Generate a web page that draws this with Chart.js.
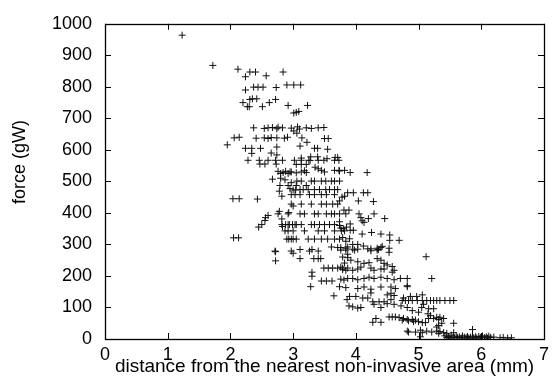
<!DOCTYPE html>
<html>
<head>
<meta charset="utf-8">
<script src="https://cdn.jsdelivr.net/npm/chart.js@4/dist/chart.umd.min.js"></script>
<style>
  html, body { margin: 0; padding: 0; background: #fff; }
  canvas { display: block; }
</style>
</head>
<body>
<canvas id="forceChart" width="554" height="390"></canvas>
<script>
// [distance (mm), force (gW)], grouped by force band
const upperPoints = [
    [1.23, 964], [1.72, 868], [2.12, 856], [2.31, 847], [2.40, 847], [2.24, 832], [2.57, 835], [2.84, 847],
    [2.24, 790], [2.37, 799], [2.44, 799], [2.52, 799], [2.73, 798], [2.90, 806], [3.01, 806], [3.12, 806],
    [2.20, 750], [2.31, 760], [2.35, 762], [2.42, 762], [2.27, 737], [2.30, 737], [2.51, 737], [2.62, 750],
    [2.72, 760], [2.92, 741], [3.23, 741], [3.01, 717], [3.05, 719], [3.09, 722],
    [2.37, 670], [2.54, 668], [2.60, 670], [2.67, 671], [2.74, 667], [2.76, 672], [2.83, 670], [2.97, 669],
    [3.07, 673], [3.10, 666], [3.21, 670], [3.29, 668], [3.40, 670], [3.49, 671], [3.01, 660], [3.06, 653],
    [2.06, 638], [2.14, 640], [2.41, 637], [2.54, 638], [2.60, 636], [2.65, 639], [2.74, 638], [2.86, 637],
    [2.91, 640], [3.14, 638], [3.50, 636], [3.56, 636],
    [1.95, 616], [3.22, 624], [3.11, 612], [2.24, 605], [2.34, 605], [2.34, 589], [2.48, 605], [2.74, 609],
    [2.65, 590], [2.74, 584], [3.34, 605], [3.39, 605], [3.55, 602]
];

const middlePoints = [
    [2.28, 567], [2.46, 567], [2.60, 567], [2.72, 567], [2.83, 567], [3.02, 567], [3.13, 567], [3.25, 567],
    [3.40, 567], [3.49, 567], [3.66, 567], [3.73, 567], [3.27, 566], [3.54, 572], [3.67, 576], [3.71, 576],
    [3.13, 574], [3.28, 578], [3.39, 578],
    [2.47, 555], [2.55, 555], [2.73, 555], [3.05, 554], [3.13, 554], [3.21, 554],
    [2.76, 532], [2.88, 532], [2.95, 530], [3.18, 534], [3.66, 535], [3.73, 535], [3.82, 535], [3.74, 533],
    [3.91, 528], [4.18, 528], [2.80, 525], [2.84, 528], [2.92, 525], [2.97, 530], [3.05, 527], [3.13, 530],
    [3.21, 528], [3.35, 545], [3.40, 540], [3.45, 535], [3.50, 530],
    [2.67, 507], [2.80, 510], [2.87, 505], [2.97, 496],
    [3.06, 501], [3.13, 501], [3.29, 501], [3.34, 501], [3.45, 501], [3.52, 501], [3.61, 501], [3.66, 501], [3.74, 501],
    [2.79, 487], [2.92, 487], [3.05, 487], [3.21, 487], [2.95, 477], [3.00, 473], [3.04, 473],
    [3.11, 474], [3.16, 474], [3.24, 474], [3.34, 474], [3.42, 474], [3.52, 474], [3.58, 474], [3.66, 474], [3.71, 474],
    [2.78, 469], [2.82, 453], [3.87, 464], [3.96, 464], [4.12, 464], [4.19, 464], [3.82, 453], [3.78, 450],
    [2.97, 458], [3.03, 458], [3.11, 458], [3.26, 458], [3.34, 458], [3.45, 458], [3.53, 458], [3.66, 458],
    [2.04, 445], [2.14, 445], [2.43, 444], [3.74, 438], [4.04, 438], [4.28, 436],
    [2.97, 428], [3.13, 428], [3.29, 428], [3.45, 428], [3.53, 428], [3.63, 428], [3.71, 428],
    [3.00, 422], [3.81, 409], [3.89, 409], [2.78, 405], [2.93, 401]
];

const lowerPoints = [
    [2.76, 397], [2.92, 397], [3.11, 397], [3.18, 397], [3.34, 397], [3.40, 397], [3.53, 397], [3.61, 397],
    [3.66, 397], [3.74, 397], [3.84, 397], [4.05, 397], [4.29, 397],
    [2.60, 392], [2.56, 385], [2.55, 376], [2.82, 381], [4.20, 382], [4.46, 382], [4.08, 385], [4.10, 375], [4.13, 370],
    [2.50, 363], [2.45, 355],
    [2.82, 363], [2.88, 363], [2.92, 363], [2.94, 363], [2.99, 363], [3.03, 363], [3.05, 363], [3.13, 363],
    [3.29, 363], [3.34, 363], [3.42, 363], [3.50, 363], [3.58, 363], [3.66, 363],
    [3.91, 365], [3.85, 355], [3.80, 350], [3.91, 345], [3.96, 345], [2.83, 357], [3.74, 372], [3.74, 360], [3.76, 352],
    [2.87, 343], [2.92, 343], [3.00, 343], [3.18, 343], [3.40, 343], [3.50, 343], [3.66, 343], [3.77, 343], [3.82, 343],
    [4.10, 333], [4.25, 338], [4.40, 333], [4.54, 330], [4.54, 313], [4.69, 313], [2.05, 321], [2.13, 321],
    [2.90, 317], [2.93, 317], [2.97, 317], [3.00, 317], [3.05, 317], [3.24, 317], [3.34, 317], [3.45, 317],
    [3.55, 317], [3.66, 317], [3.74, 317],
    [3.79, 322], [3.84, 310], [3.90, 318], [3.95, 300], [4.03, 300], [4.12, 295],
    [3.61, 292], [3.71, 290], [3.87, 292], [3.76, 290], [3.84, 288], [3.95, 285], [4.03, 285], [4.19, 286],
    [4.24, 286], [4.34, 288], [4.40, 290], [4.53, 288], [4.53, 275], [4.42, 294], [4.36, 284],
    [2.71, 279], [2.97, 279], [3.26, 279], [3.40, 279], [2.72, 277], [2.72, 248], [3.00, 272], [3.11, 284],
    [3.11, 255], [3.30, 284], [3.33, 255], [3.40, 255], [3.44, 255],
    [3.76, 282], [3.84, 282], [3.98, 282], [4.24, 280], [4.34, 282], [3.87, 269], [3.82, 241], [5.12, 261],
    [3.49, 225], [3.56, 225], [3.63, 225], [3.71, 225], [3.79, 225], [3.87, 225],
    [3.79, 260], [3.87, 258], [3.92, 250], [4.03, 245], [4.13, 240], [4.21, 242], [4.34, 255], [4.40, 250],
    [4.45, 240], [4.50, 235], [4.58, 230],
    [3.76, 228], [3.79, 220], [3.84, 218], [3.95, 218], [4.03, 222], [4.08, 228], [4.24, 225], [4.29, 218],
    [4.40, 222], [4.45, 222], [4.58, 212], [4.61, 218], [3.30, 212], [3.30, 199]
];

const tailPoints = [
    [3.76, 190], [3.81, 187], [3.87, 192], [3.95, 192], [4.03, 188], [4.13, 192], [4.21, 196], [4.29, 192],
    [4.40, 196], [4.50, 192], [4.61, 188], [4.71, 192], [4.82, 192], [4.82, 169], [5.21, 192],
    [3.45, 184], [3.53, 184], [3.62, 184], [3.28, 166], [3.74, 166],
    [3.84, 163], [4.03, 160], [4.13, 165], [4.24, 158], [4.40, 165], [4.56, 165], [4.63, 160], [4.82, 166],
    [3.65, 137], [3.86, 125], [3.90, 135], [4.00, 135], [4.11, 130], [4.24, 146], [4.56, 125], [4.76, 130],
    [5.06, 140], [4.87, 135], [4.97, 135],
    [4.74, 122], [4.79, 122], [4.84, 122], [4.90, 122], [4.98, 122], [5.06, 122], [5.13, 122], [5.19, 122],
    [5.24, 122], [5.29, 122], [5.34, 122], [5.42, 122], [5.50, 122], [5.56, 122],
    [4.37, 118], [4.45, 118], [4.50, 112], [4.61, 110],
    [3.89, 105], [3.95, 102], [4.03, 98], [4.08, 100], [4.19, 130], [4.27, 118], [4.29, 110], [4.40, 100],
    [4.50, 140], [4.56, 145], [4.61, 138], [5.16, 96], [5.24, 96],
    [4.72, 105], [4.82, 100], [4.90, 90], [5.00, 85], [5.05, 100], [5.08, 110], [5.15, 80], [5.19, 74],
    [4.53, 70], [4.58, 70], [4.63, 70], [4.69, 68], [4.76, 65], [4.82, 62], [4.90, 62], [4.95, 60],
    [5.00, 55], [5.06, 52], [5.11, 52], [5.16, 65], [5.24, 65], [5.32, 62], [5.40, 65],
    [4.74, 60], [4.84, 58], [4.92, 55], [4.32, 65], [4.27, 53], [4.40, 53],
    [5.29, 69], [5.34, 69], [5.37, 50], [5.56, 50], [5.29, 38], [5.32, 43], [5.86, 30],
    [4.82, 25], [4.84, 22], [4.95, 22], [5.03, 28], [5.06, 20], [5.13, 25], [5.21, 22], [5.29, 25],
    [5.32, 18], [5.34, 24], [5.40, 20], [5.45, 18], [5.56, 20], [5.03, 7]
];

const baselinePoints = [
    [5.42, 10], [5.45, 5], [5.48, 8], [5.50, 3], [5.52, 12], [5.55, 6], [5.57, 4], [5.60, 9],
    [5.62, 5], [5.65, 7], [5.68, 3], [5.70, 10], [5.73, 6], [5.76, 4], [5.78, 8], [5.80, 3],
    [5.83, 6], [5.86, 9], [5.88, 4], [5.91, 7], [5.93, 3], [5.96, 8], [5.99, 5], [6.02, 10],
    [6.05, 4], [6.08, 7], [6.10, 3], [6.12, 9], [6.15, 5], [6.20, 6], [6.30, 4], [6.35, 5],
    [6.42, 3], [6.48, 4]
];

const xTicks = [0, 1, 2, 3, 4, 5, 6, 7];
const yTicks = [0, 100, 200, 300, 400, 500, 600, 700, 800, 900, 1000];

const xTitle = 'distance from the nearest non-invasive area (mm)';
const yTitle = 'force (gW)';

var fontFamily = '"Liberation Sans", Arial, Helvetica, sans-serif';

// gnuplot style box: frame with inward ticks on all four sides, plus y label
const frameTicks = {
    id: 'frameTicks',
    afterDatasetsDraw(chart) {
        const ctx = chart.ctx;
        const a = chart.chartArea;
        const xs = chart.scales.x;
        const ys = chart.scales.y;
        const len = 6;
        ctx.save();
        ctx.strokeStyle = '#000';
        ctx.lineWidth = 1;
        ctx.beginPath();
        xTicks.forEach(function (v) {
            const px = Math.round(xs.getPixelForValue(v)) + 0.5;
            ctx.moveTo(px, a.bottom);
            ctx.lineTo(px, a.bottom - len);
            ctx.moveTo(px, a.top);
            ctx.lineTo(px, a.top + len);
        });
        yTicks.forEach(function (v) {
            const py = Math.round(ys.getPixelForValue(v)) + 0.5;
            ctx.moveTo(a.left, py);
            ctx.lineTo(a.left + len, py);
            ctx.moveTo(a.right, py);
            ctx.lineTo(a.right - len, py);
        });
        ctx.stroke();
        ctx.lineWidth = 1.3;
        ctx.strokeRect(Math.round(a.left) + 0.5, Math.round(a.top) + 0.5,
            Math.round(a.right - a.left), Math.round(a.bottom - a.top));

        ctx.translate(20, 162);
        ctx.rotate(-Math.PI / 2);
        ctx.fillStyle = '#000';
        ctx.font = '18px ' + fontFamily;
        ctx.textAlign = 'center';
        ctx.textBaseline = 'middle';
        ctx.fillText(yTitle, 0, 0);
        ctx.restore();
    }
};

function toXY(list) {
    return list.map(function (p) { return { x: p[0], y: p[1] }; });
}

const allPoints = [].concat(upperPoints, middlePoints, lowerPoints, tailPoints, baselinePoints);

const ctx = document.getElementById('forceChart').getContext('2d');
new Chart(ctx, {
    type: 'scatter',
    data: {
        datasets: [{
            data: toXY(allPoints),
            pointStyle: 'cross',
            pointRadius: 3.5,
            borderColor: '#111',
            backgroundColor: '#111',
            borderWidth: 1
        }]
    },
    options: {
        responsive: false,
        animation: false,
        layout: { padding: { top: 15, right: 6, left: 0, bottom: 0 } },
        plugins: {
            legend: { display: false },
            tooltip: { enabled: false }
        },
        scales: {
            x: {
                type: 'linear',
                min: 0,
                max: 7,
                afterBuildTicks: function (s) { s.ticks = xTicks.map(function (v) { return { value: v }; }); },
                afterFit: function (s) { s.height = 51; },
                grid: { display: false, drawTicks: false },
                border: { display: false },
                ticks: {
                    color: '#000',
                    padding: 5,
                    maxRotation: 0,
                    font: { family: fontFamily, size: 18 },
                    callback: function (value) { return String(value); }
                },
                title: {
                    display: true,
                    text: xTitle,
                    color: '#000',
                    padding: { top: 0, bottom: 12 },
                    font: { family: fontFamily, size: 19 }
                }
            },
            y: {
                type: 'linear',
                min: 0,
                max: 1000,
                afterBuildTicks: function (s) { s.ticks = yTicks.map(function (v) { return { value: v }; }); },
                afterFit: function (s) { s.width = 105; },
                grid: { display: false, drawTicks: false },
                border: { display: false },
                ticks: {
                    color: '#000',
                    padding: 13,
                    font: { family: fontFamily, size: 18 },
                    callback: function (value) { return String(value); }
                }
            }
        }
    },
    plugins: [frameTicks]
});
</script>
</body>
</html>
